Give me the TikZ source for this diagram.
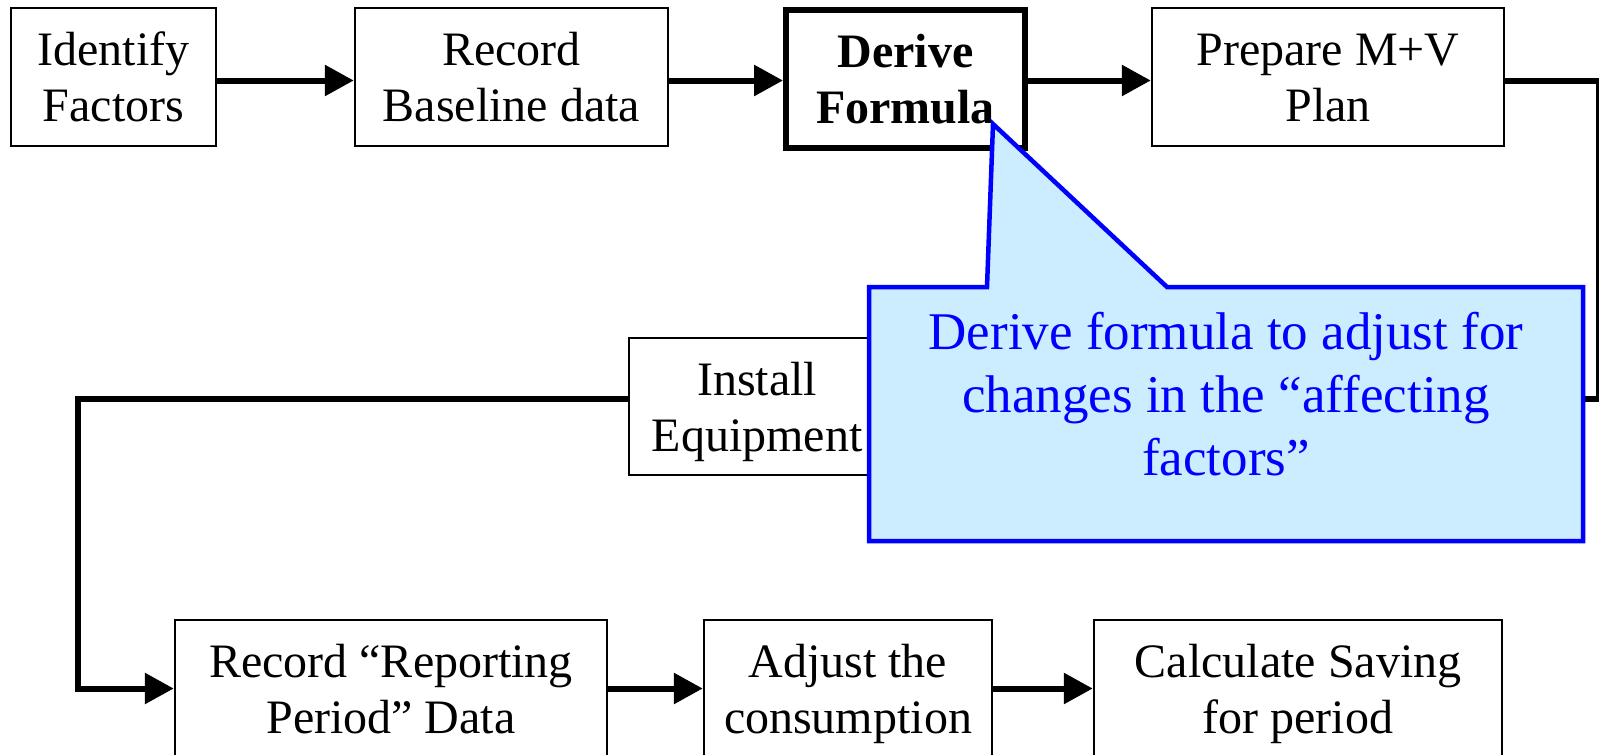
\documentclass[tikz,border=0pt]{standalone}
\usepackage{fontspec}
\setmainfont{Liberation Serif}
\usetikzlibrary{arrows.meta}

\definecolor{calloutfill}{HTML}{CCECFF}
\definecolor{calloutblue}{HTML}{0000FF}

% one line of text with a fixed height and no depth, so that every
% box centres its lines the same way whatever letters they contain
\newcommand{\boxline}[1]{\raisebox{0pt}[0.69em][0pt]{#1}}
\newcommand{\boxfont}{\fontsize{48}{56}\selectfont}
\newcommand{\notefont}{\fontsize{53}{63}\selectfont}

\tikzset{
  stage/.style={draw, line width=2.5pt, inner sep=0pt, align=center,
                font=\boxfont, fill=white},
  keystage/.style={stage, line width=6pt, font=\boxfont\bfseries},
  flow/.style={line width=6pt, line join=miter},
  flowarrow/.style={flow, -{Triangle[length=29pt,width=30pt]}},
  notebox/.style={fill=calloutfill, draw=calloutblue, line width=4.5pt,
                  line join=miter},
  notetext/.style={inner sep=0pt, align=center, font=\notefont,
                   text=calloutblue}
}

\begin{document}
\begin{tikzpicture}[x=1pt, y=-1pt]
  \useasboundingbox (0,0) rectangle (1599,755);
  \clip (0,0) rectangle (1599,755);
  \fill[white] (0,0) rectangle (1599,755);

  % top row
  \node[stage, minimum width=205pt, minimum height=138pt] (idf) at (113.5,77)
    {\boxline{Identify}\\\boxline{Factors}};
  \node[stage, minimum width=313pt, minimum height=138pt] (rbd) at (511.5,77)
    {\boxline{Record}\\\boxline{Baseline data}};
  \node[keystage, minimum width=239pt, minimum height=138.5pt] (dfm) at (905.5,79)
    {\boxline{Derive}\\\boxline{Formula}};
  \node[stage, minimum width=352pt, minimum height=138pt] (pmv) at (1328,77)
    {\boxline{Prepare M+V}\\\boxline{Plan}};

  % middle row
  \node[stage, minimum width=256pt, minimum height=137pt] (ieq) at (757,406.5)
    {\boxline{Install}\\\boxline{Equipment}};

  % bottom row
  \node[stage, minimum width=432pt, minimum height=137pt] (rrp) at (391,688.5)
    {\boxline{Record “Reporting}\\\boxline{Period” Data}};
  \node[stage, minimum width=288pt, minimum height=137pt] (adj) at (848,688.5)
    {\boxline{Adjust the}\\\boxline{consumption}};
  \node[stage, minimum width=408pt, minimum height=137pt] (cal) at (1298,688.5)
    {\boxline{Calculate Saving}\\\boxline{for period}};

  % corners of the return paths
  \coordinate (rturn) at (1598.5,399);
  \coordinate (lturn) at (77.5,399);

  % connectors along the top row
  \draw[flowarrow] ([yshift=-3.5pt]idf.east) -- ([yshift=-3.5pt]idf.east -| rbd.west);
  \draw[flowarrow] ([yshift=-3.5pt]rbd.east) -- ([yshift=-3.5pt]rbd.east -| dfm.west);
  \draw[flowarrow] ([yshift=-1.5pt]dfm.east) -- ([yshift=-1.5pt]dfm.east -| pmv.west);

  % down the right side to the installation step
  \draw[flow] ([yshift=-3.5pt]pmv.east) -| (rturn) -- (rturn -| ieq.east);

  % from the installation step down the left side to the bottom row
  \draw[flowarrow] (lturn -| ieq.west) -- (lturn) |- (rrp.west);

  % connectors along the bottom row
  \draw[flowarrow] (rrp.east) -- (adj.west);
  \draw[flowarrow] (adj.east) -- (cal.west);

  % callout explaining the formula step
  \draw[notebox] (869,287) -- (987,287) -- (993,124) -- (1167,287)
    -- (1583,287) -- (1583,541) -- (869,541) -- cycle;
  \node[notetext] (note) at (1226,394)
    {\boxline{Derive formula to adjust for}\\
     \boxline{changes in the “affecting}\\
     \boxline{factors”}};
\end{tikzpicture}
\end{document}
